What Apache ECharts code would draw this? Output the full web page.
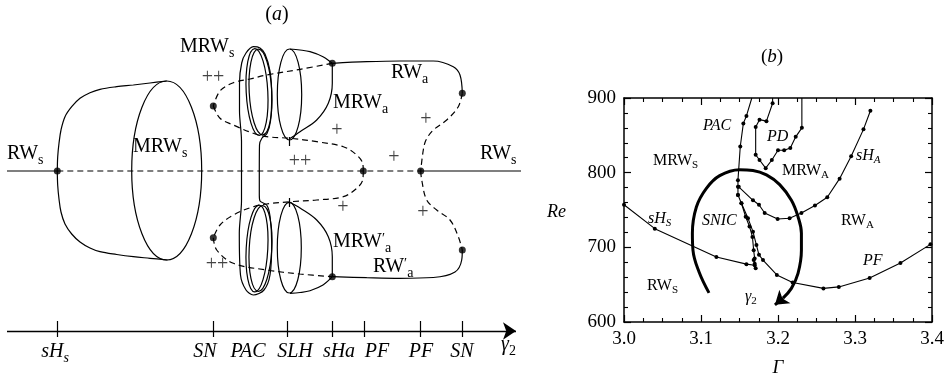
<!DOCTYPE html>
<html>
<head>
<meta charset="utf-8">
<script src="https://cdn.jsdelivr.net/npm/echarts@6/dist/echarts.min.js"></script>
<style>
  html, body { margin: 0; padding: 0; background: #fff; }
  #main { width: 946px; height: 380px; }
</style>
</head>
<body>
<div id="main"></div>
<script>
// ---------- panel (b): Re vs Gamma ----------
const gammaTicks = [3.0, 3.1, 3.2, 3.3, 3.4];
const reTicks = [600, 700, 800, 900];

const pacCurve = [[3.166, 900], [3.159, 876], [3.155, 866], [3.151, 835], [3.148, 790], [3.148, 781], [3.148, 770]];
const pdCurve = [[3.193, 900], [3.193, 893], [3.185, 869], [3.176, 871], [3.171, 861], [3.171, 824], [3.176, 817],
  [3.184, 806], [3.192, 817], [3.2, 830], [3.208, 830], [3.216, 833], [3.223, 848], [3.231, 860], [3.231, 900]];
const shACurve = [[3.149, 781], [3.1675, 763], [3.1753, 757], [3.1827, 746], [3.1995, 738], [3.215, 739], [3.2304, 746],
  [3.248, 756], [3.264, 767], [3.28, 792], [3.295, 822], [3.311, 858], [3.32, 883]];
const innerCurve = [[3.148, 770], [3.1525, 759], [3.158, 741], [3.163, 728], [3.1668, 714], [3.1684, 696], [3.1697, 685],
  [3.1684, 683], [3.1697, 678], [3.171, 672]];
const pfCurve = [[3.1525, 759], [3.161, 739], [3.1675, 721], [3.172, 703], [3.1753, 690], [3.1805, 683], [3.1985, 663],
  [3.219, 653], [3.259, 645], [3.279, 647], [3.319, 659], [3.359, 679], [3.398, 704]];
const shSCurve = [[3.0, 757], [3.04, 725], [3.12, 687], [3.159, 677.5], [3.1697, 676]];
const gammaPath = [[3.1104, 639], [3.0975, 667], [3.0896, 696], [3.0888, 719], [3.094, 754], [3.107, 779], [3.1243, 796],
  [3.15, 804], [3.1675, 803], [3.185, 797], [3.2022, 784], [3.2174, 763], [3.226, 741], [3.2304, 719], [3.2304, 696],
  [3.226, 665], [3.2174, 645], [3.2065, 632]];
const gammaArrowHead = [[3.2065, 632], [3.196, 623]];

// ---------- panel (a): schematic, x = gamma2 position, y = amplitude ----------
const rwsStableLeft = [[7, 0], [57.3, 0]];
const rwsUnstable = [[57.3, 0], [420.7, 0]];
const rwsStableRight = [[420.7, 0], [521, 0]];
const mrwsUpper = [[57.3, 0], [57.7, 14.3], [59, 27.7], [61, 41], [65, 54.3], [71.7, 64.3], [80, 72.7], [90, 78.3],
  [100, 81.7], [116.7, 84.3], [133.3, 86], [150, 88], [166.7, 90]];
const mrwsLower = [[57.3, 0], [57.7, -14.3], [59, -28], [61, -41], [65, -53], [71.7, -63], [80, -71], [90, -77],
  [100, -80.7], [116.7, -83.5], [133.3, -85.7], [150, -87.3], [167.5, -89]];
const pacLoop = [[241.5, 0], [241.5, 30], [239.5, 60], [239.5, 88], [241.7, 108], [246, 118], [253.3, 124.3], [260, 123],
  [265, 117], [270, 100], [271.7, 75], [270.5, 50], [267, 37.5], [262, 33], [259.5, 26], [259.3, 0], [259.3, -24],
  [260, -30], [266.7, -34], [270, -45], [271.7, -72], [270, -104], [264, -119], [253.3, -124], [246, -119],
  [240.5, -104], [239.3, -62], [241.5, -30], [241.5, 0]];
// ellipses: [cx, cy, rx, ry, tilt deg]
const ellipses = [
  [166.7, 0.5, 35, 89.5, 0],
  [257, 79, 10.8, 43.5, 3], [260.5, 79, 11.3, 43, 3],
  [257, -77.5, 10.8, 43.5, -3], [260.5, -77.5, 11.3, 43, -3],
  [289.5, 76.5, 12.2, 45.5, 0], [289.3, -76.7, 12, 45.3, 0]
];
const mrwaUpperTop = [[290, 122], [300, 121], [310, 119.3], [323, 114.3], [332.3, 107.7]];
const mrwaUpperSide = [[332.3, 107.7], [332.3, 87.7], [328.3, 67.7], [316.7, 51], [300, 39.3], [290, 32.5]];
const mrwaLowerBottom = [[290, -122.3], [300, -121.5], [310, -119.7], [323, -114], [332.3, -105.7]];
const mrwaLowerSide = [[332.3, -105.7], [332.3, -85.7], [328.3, -65.7], [316.7, -49], [300, -37], [290, -31.3]];
const snUpper = [[332.3, 107.7], [300, 101.7], [266.7, 96], [250, 92], [233.3, 88.3], [220, 80], [213.3, 65]];
const snUpperToPf = [[213.3, 65], [220, 52.7], [233.3, 46], [253.3, 37.7], [266.7, 34.3], [290, 32.7], [316.7, 29.3],
  [343.3, 24.3], [356.7, 16], [362.7, 7.7], [363.3, 0]];
const snLowerToPf = [[363.3, 0], [362.7, -9], [356.7, -17.3], [343.3, -25.7], [316.7, -29], [290, -30.7], [266.7, -33],
  [253.3, -35.7], [233.3, -44], [220, -54], [213.3, -66.7]];
const snLower = [[213.3, -66.7], [216.7, -79], [233.3, -92.3], [266.7, -99], [300, -103], [332.3, -105.7]];
const rwaUpper = [[332.3, 107.7], [366.7, 109.3], [400, 110], [433.3, 110], [453.3, 104.3], [460, 96], [462.3, 77.7]];
const rwaUpperDashed = [[462.3, 77.7], [458.3, 64.3], [446.7, 51], [433.3, 41], [426, 31], [423.3, 21], [420.7, 0]];
const rwaLowerDashed = [[420.7, 0], [421.7, -9], [426.7, -29], [436.7, -39], [450, -49], [458.3, -65.7], [462.3, -79]];
const rwaLower = [[462.3, -79], [461.7, -89], [455, -101], [433.3, -106.5], [400, -107.3], [366.7, -106.7], [332.3, -105.7]];
const bifDots = [[57.3, 0], [213.3, 65], [213.3, -66.7], [332.3, 107.7], [332.3, -105.7], [363.3, 0], [420.7, 0],
  [462.3, 77.7], [462.3, -79]];
const slhMarks = [[[289, 34], [289, 25]], [[289, -27], [289, -36]]];
const paramTicks = [57.3, 213.3, 287.3, 332.3, 364.3, 420.7, 462.3];
const paramAxisY = -160;

const SERIF = 'Liberation Serif';
const BLACK = '#000';

function lineA(data, dashed, smooth) {
  return {
    type: 'line', xAxisIndex: 0, yAxisIndex: 0, data: data, smooth: smooth === undefined ? 0.35 : smooth,
    symbol: 'none', clip: false, silent: true,
    lineStyle: { color: BLACK, width: 1.2, type: dashed ? [6, 4] : 'solid' }
  };
}
function lineB(data, width) {
  return {
    type: 'line', xAxisIndex: 1, yAxisIndex: 1, smooth: false, clip: false, silent: true,
    data: data.map(p => p[1] >= 900 ? { value: p, symbol: 'none' } : { value: p }),
    symbol: 'circle', symbolSize: 4, itemStyle: { color: BLACK },
    lineStyle: { color: BLACK, width: width || 1.1 }
  };
}

// rich text helper: parts = [[text, kind]] kind n/i/s/si/p
function label(x, cy, parts, size, align, color) {
  const sub = Math.round(size * 0.68);
  const pad = Math.round(size * 0.45);
  const rich = {
    n: { fontFamily: SERIF, fontSize: size, lineHeight: size, verticalAlign: 'top' },
    i: { fontFamily: SERIF, fontSize: size, lineHeight: size, fontStyle: 'italic', verticalAlign: 'top' },
    s: { fontFamily: SERIF, fontSize: sub, lineHeight: sub, padding: [pad, 0, 0, 0], verticalAlign: 'top' },
    si: { fontFamily: SERIF, fontSize: sub, lineHeight: sub, fontStyle: 'italic', padding: [pad, 0, 0, 0], verticalAlign: 'top' },
    p: { fontFamily: SERIF, fontSize: sub, lineHeight: sub, verticalAlign: 'top' }
  };
  return {
    type: 'text', x: x, y: cy - size / 2, silent: true,
    style: {
      text: parts.map(p => '{' + p[1] + '|' + p[0] + '}').join(''),
      rich: rich, fontFamily: SERIF, fontSize: size,
      fill: color || BLACK, align: align || 'left', verticalAlign: 'top'
    }
  };
}

const texts = [
  // panel (a)
  label(277, 15, [['(', 'n'], ['a', 'i'], [')', 'n']], 20, 'center'),
  label(7, 154, [['RW', 'n'], ['s', 's']], 20),
  label(133, 147, [['MRW', 'n'], ['s', 's']], 20),
  label(180, 47, [['MRW', 'n'], ['s', 's']], 20),
  label(391, 73, [['RW', 'n'], ['a', 's']], 20),
  label(333, 103, [['MRW', 'n'], ['a', 's']], 20),
  label(333, 242, [['MRW', 'n'], ['\u2032', 'p'], ['a', 's']], 20),
  label(373, 267, [['RW', 'n'], ['\u2032', 'p'], ['a', 's']], 20),
  label(480, 154, [['RW', 'n'], ['s', 's']], 20),
  label(55, 352, [['sH', 'i'], ['s', 'si']], 20, 'center'),
  label(205, 352, [['SN', 'i']], 20, 'center'),
  label(248, 352, [['PAC', 'i']], 20, 'center'),
  label(295, 352, [['SLH', 'i']], 20, 'center'),
  label(339, 352, [['sHa', 'i']], 20, 'center'),
  label(377, 352, [['PF', 'i']], 20, 'center'),
  label(421, 352, [['PF', 'i']], 20, 'center'),
  label(462, 352, [['SN', 'i']], 20, 'center'),
  label(501, 345, [['\u03b3', 'i'], ['2', 's']], 20),
  label(213, 78, [['++', 'n']], 20, 'center', '#444'),
  label(300, 162, [['++', 'n']], 20, 'center', '#444'),
  label(337, 131, [['+', 'n']], 20, 'center', '#444'),
  label(394, 158, [['+', 'n']], 20, 'center', '#444'),
  label(426, 120, [['+', 'n']], 20, 'center', '#444'),
  label(343, 208, [['+', 'n']], 20, 'center', '#444'),
  label(423, 213, [['+', 'n']], 20, 'center', '#444'),
  label(217, 265, [['++', 'n']], 20, 'center', '#444'),
  // panel (b)
  label(772, 57, [['(', 'n'], ['b', 'i'], [')', 'n']], 19, 'center'),
  label(703, 126, [['PAC', 'i']], 16),
  label(767, 137, [['PD', 'i']], 16),
  label(653, 161, [['MRW', 'n'], ['S', 's']], 16),
  label(782, 171, [['MRW', 'n'], ['A', 's']], 16),
  label(856, 156, [['sH', 'i'], ['A', 'si']], 16),
  label(547, 212, [['Re', 'i']], 18),
  label(648, 219, [['sH', 'i'], ['S', 'si']], 16),
  label(702, 221, [['SNIC', 'i']], 16),
  label(841, 221, [['RW', 'n'], ['A', 's']], 16),
  label(863, 261, [['PF', 'i']], 16),
  label(647, 286, [['RW', 'n'], ['S', 's']], 16),
  label(745, 297, [['\u03b3', 'i'], ['2', 's']], 16),
  label(778, 368, [['\u0393', 'i']], 19, 'center')
];

const tickAxis = {
  show: true, axisLine: { show: true, onZero: false, lineStyle: { color: BLACK, width: 1.5 } },
  axisTick: { show: true, inside: true, length: 7, lineStyle: { color: BLACK, width: 1.2 } },
  minorTick: { show: true, length: 4, lineStyle: { color: BLACK, width: 1.1 } },
  splitLine: { show: false }, minorSplitLine: { show: false }
};

const option = {
  animation: false,
  backgroundColor: '#fff',
  textStyle: { fontFamily: SERIF },
  grid: [
    { left: 0, top: 0, width: 530, height: 380, outerBoundsMode: 'none' },
    { left: 624, right: 14, top: 98, bottom: 58, outerBoundsMode: 'none' }
  ],
  xAxis: [
    { gridIndex: 0, type: 'value', min: 0, max: 530, show: false },
    Object.assign({}, tickAxis, {
      gridIndex: 1, type: 'value', position: 'bottom',
      min: gammaTicks[0], max: gammaTicks[gammaTicks.length - 1], interval: 0.1,
      minorTick: Object.assign({}, tickAxis.minorTick, { splitNumber: 4 }),
      axisLabel: { show: true, color: BLACK, fontFamily: SERIF, fontSize: 19, margin: 8,
        formatter: v => v.toFixed(1) }
    }),
    Object.assign({}, tickAxis, {
      gridIndex: 1, type: 'value', position: 'top',
      min: gammaTicks[0], max: gammaTicks[gammaTicks.length - 1], interval: 0.1,
      minorTick: Object.assign({}, tickAxis.minorTick, { splitNumber: 4 }),
      axisLabel: { show: false }
    })
  ],
  yAxis: [
    { gridIndex: 0, type: 'value', min: -209, max: 171, show: false },
    Object.assign({}, tickAxis, {
      gridIndex: 1, type: 'value', position: 'left',
      min: reTicks[0], max: reTicks[reTicks.length - 1], interval: 100,
      minorTick: Object.assign({}, tickAxis.minorTick, { splitNumber: 5 }),
      axisLabel: { show: true, color: BLACK, fontFamily: SERIF, fontSize: 19, margin: 8,
        formatter: v => String(v) }
    }),
    Object.assign({}, tickAxis, {
      gridIndex: 1, type: 'value', position: 'right',
      min: reTicks[0], max: reTicks[reTicks.length - 1], interval: 100,
      minorTick: Object.assign({}, tickAxis.minorTick, { splitNumber: 5 }),
      axisLabel: { show: false }
    })
  ],
  graphic: texts,
  series: [
    // ----- panel (a) -----
    lineA(rwsStableLeft, false, false),
    lineA(rwsUnstable, true, false),
    lineA(rwsStableRight, false, false),
    lineA(mrwsUpper), lineA(mrwsLower),
    lineA(pacLoop, false, 0.3),
    {
      type: 'custom', xAxisIndex: 0, yAxisIndex: 0, data: ellipses, clip: false, silent: true,
      renderItem: function (params, api) {
        const c = api.coord([api.value(0), api.value(1)]);
        const s = api.size([api.value(2), api.value(3)]);
        return {
          type: 'ellipse', x: c[0], y: c[1], rotation: api.value(4) * Math.PI / 180,
          shape: { cx: 0, cy: 0, rx: s[0], ry: s[1] },
          style: { fill: 'none', stroke: BLACK, lineWidth: 1.2 }
        };
      }
    },
    lineA(mrwaUpperTop), lineA(mrwaUpperSide), lineA(mrwaLowerBottom), lineA(mrwaLowerSide),
    lineA(snUpper, true), lineA(snUpperToPf, true), lineA(snLowerToPf, true), lineA(snLower, true),
    lineA(rwaUpper), lineA(rwaUpperDashed, true), lineA(rwaLowerDashed, true), lineA(rwaLower),
    {
      type: 'lines', coordinateSystem: 'cartesian2d', xAxisIndex: 0, yAxisIndex: 0, silent: true,
      lineStyle: { color: BLACK, width: 1.2, opacity: 1 },
      data: slhMarks.map(c => ({ coords: c }))
        .concat(paramTicks.map(x => ({ coords: [[x, paramAxisY + 10], [x, paramAxisY - 6]] })))
    },
    {
      type: 'lines', coordinateSystem: 'cartesian2d', xAxisIndex: 0, yAxisIndex: 0, silent: true,
      symbol: ['none', 'arrow'], symbolSize: 13,
      lineStyle: { color: BLACK, width: 1.4, opacity: 1 },
      data: [{ coords: [[7, paramAxisY], [516, paramAxisY]] }]
    },
    {
      type: 'scatter', xAxisIndex: 0, yAxisIndex: 0, data: bifDots, symbolSize: 7, silent: true,
      itemStyle: { color: BLACK }, clip: false
    },
    // ----- panel (b) -----
    lineB(pacCurve), lineB(pdCurve), lineB(shACurve), lineB(innerCurve), lineB(pfCurve), lineB(shSCurve),
    {
      type: 'line', xAxisIndex: 1, yAxisIndex: 1, data: gammaPath, smooth: 0.4, symbol: 'none', silent: true,
      lineStyle: { color: BLACK, width: 3 }
    },
    {
      type: 'lines', coordinateSystem: 'cartesian2d', xAxisIndex: 1, yAxisIndex: 1, silent: true,
      symbol: ['none', 'arrow'], symbolSize: 13,
      lineStyle: { color: BLACK, width: 3, opacity: 1 },
      data: [{ coords: gammaArrowHead }]
    }
  ]
};

const chart = echarts.init(document.getElementById('main'));
chart.setOption(option);
</script>
</body>
</html>
